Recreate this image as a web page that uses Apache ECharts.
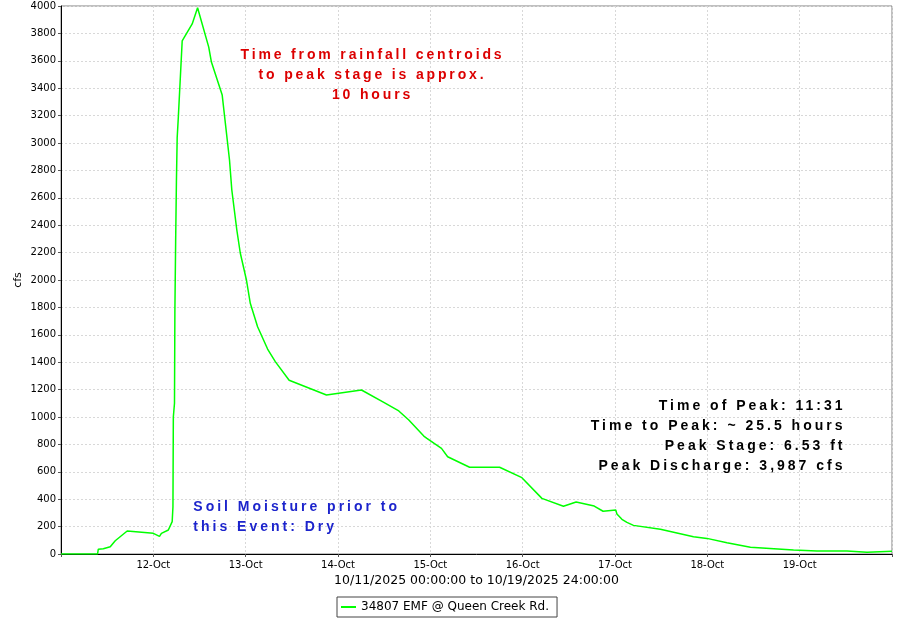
<!DOCTYPE html>
<html>
<head>
<meta charset="utf-8">
<script src="https://cdn.jsdelivr.net/npm/echarts@6/dist/echarts.min.js"></script>
<style>html,body{margin:0;padding:0;background:#fff}#c{width:900px;height:620px}</style>
</head>
<body>
<div id="c"></div>
<script>
// ---- data ----
var seriesName = '34807 EMF @ Queen Creek Rd.';
var hours = [0, 9.5, 9.7, 10.2, 11.0, 12.8, 14.1, 17.2, 24.0, 25.6, 26.1, 27.9, 28.9, 29.1, 29.2, 29.5, 29.6, 29.8, 30.0, 30.2, 30.5, 31.5, 34.1, 35.5, 38.4, 39.1, 41.9, 43.8, 44.4, 45.7, 46.6, 48.2, 49.2, 51.1, 53.7, 55.7, 59.3, 69.0, 78.1, 83.9, 87.8, 90.4, 94.3, 95.1, 98.9, 100.5, 106.2, 114.0, 119.8, 125.0, 130.6, 133.9, 138.6, 140.9, 144.2, 144.5, 145.8, 147.1, 148.8, 155.8, 164.4, 167.9, 173.1, 179.2, 190.4, 196.5, 204.3, 209.5, 216];
var cfs = [0, 0, 35, 36, 38, 53, 97, 168, 151, 129, 151, 175, 236, 345, 1000, 1100, 1760, 2280, 2715, 3040, 3190, 3745, 3869, 3987, 3700, 3591, 3350, 2876, 2657, 2365, 2197, 2000, 1830, 1659, 1496, 1404, 1268, 1161, 1197, 1107, 1044, 978, 861, 844, 771, 710, 633, 633, 557, 406, 348, 380, 350, 312, 321, 292, 253, 231, 209, 180, 126, 114, 82, 49, 29, 22, 22, 12, 20];
var dayLabels = ['', '12-Oct', '13-Oct', '14-Oct', '15-Oct', '16-Oct', '17-Oct', '18-Oct', '19-Oct', ''];
var xAxisTitle = '10/11/2025 00:00:00 to 10/19/2025 24:00:00';
var yAxisTitle = 'cfs';
var noteRed = ['Time from rainfall centroids', 'to peak stage is approx.', '10 hours'];
var noteBlack = ['Time of Peak: 11:31', 'Time to Peak: ~ 25.5 hours', 'Peak Stage: 6.53 ft', 'Peak Discharge: 3,987 cfs'];
var noteBlue = ['Soil Moisture prior to', 'this Event: Dry'];

// letter-spaced annotation text (keyed on fill colour)
(function () {
  var proto = CanvasRenderingContext2D.prototype;
  var orig = proto.fillText;
  var spacing = { '#dc0000': '2.85px', '#010101': '3px', '#1c24cc': '3px' };
  proto.fillText = function (t, x, y, m) {
    var sp = spacing[String(this.fillStyle).toLowerCase()];
    if (sp && ('letterSpacing' in this)) {
      var prev = this.letterSpacing;
      this.letterSpacing = sp;
      var r = (m === undefined) ? orig.call(this, t, x, y) : orig.call(this, t, x, y, m);
      this.letterSpacing = prev;
      return r;
    }
    return (m === undefined) ? orig.call(this, t, x, y) : orig.call(this, t, x, y, m);
  };
})();

var points = hours.map(function (h, i) { return [h, cfs[i]]; });
var font = 'DejaVu Sans';
var noteFont = 'Liberation Sans';

var chart = echarts.init(document.getElementById('c'), null, { renderer: 'canvas' });
chart.setOption({
  animation: false,
  backgroundColor: '#ffffff',
  grid: { left: 61, right: 8, top: 6, bottom: 66, show: true, borderColor: '#808080', borderWidth: 1, backgroundColor: 'transparent' },
  xAxis: {
    type: 'value', min: 0, max: 216, interval: 24,
    name: xAxisTitle, nameLocation: 'middle', nameGap: 20, nameMoveOverlap: false,
    nameTextStyle: { fontFamily: font, fontSize: 12.5, color: '#000' },
    axisLine: { show: true, lineStyle: { color: '#000', width: 1 } },
    axisTick: { show: true, length: 3, lineStyle: { color: '#555' } },
    axisLabel: { fontFamily: font, fontSize: 10, color: '#000', margin: 6,
      formatter: function (v) { return dayLabels[Math.round(v / 24)] || ''; } },
    splitLine: { show: true, lineStyle: { color: '#d8d8d8', type: [2, 2], width: 1 } }
  },
  yAxis: {
    type: 'value', min: 0, max: 4000, interval: 200,
    name: yAxisTitle, nameLocation: 'middle', nameGap: 37, nameRotate: 90, nameMoveOverlap: false,
    nameTextStyle: { fontFamily: font, fontSize: 11, color: '#000' },
    axisLine: { show: true, lineStyle: { color: '#000', width: 1 } },
    axisTick: { show: true, length: 3, lineStyle: { color: '#555' } },
    axisLabel: { fontFamily: font, fontSize: 10, color: '#000', margin: 5,
      formatter: function (v) { return String(v); } },
    splitLine: { show: true, lineStyle: { color: '#d8d8d8', type: [2, 2], width: 1 } }
  },
  legend: {
    left: 337, top: 597, orient: 'horizontal',
    padding: [4, 8, 4, 4],
    borderColor: '#444', borderWidth: 1,
    itemWidth: 15, itemHeight: 2, itemGap: 5,
    icon: 'rect',
    textStyle: { fontFamily: font, fontSize: 12, color: '#000' },
    data: [seriesName]
  },
  series: [{
    name: seriesName, type: 'line', data: points,
    showSymbol: false, symbol: 'none',
    lineStyle: { color: '#00ff00', width: 1.5 },
    itemStyle: { color: '#00ff00' }
  }],
  graphic: [
    { type: 'text', x: 372.5, y: 75.3, z: 100,
      style: { text: noteRed.join('\n'), textAlign: 'center', textVerticalAlign: 'middle', lineHeight: 20.3,
        fill: '#dc0000', fontFamily: noteFont, fontWeight: 'bold', fontSize: 14 } },
    { type: 'text', x: 845.5, y: 436, z: 100,
      style: { text: noteBlack.join('\n'), textAlign: 'right', textVerticalAlign: 'middle', lineHeight: 19.8,
        fill: '#010101', fontFamily: noteFont, fontWeight: 'bold', fontSize: 14 } },
    { type: 'text', x: 193.3, y: 517, z: 100,
      style: { text: noteBlue.join('\n'), textAlign: 'left', textVerticalAlign: 'middle', lineHeight: 19.8,
        fill: '#1c24cc', fontFamily: noteFont, fontWeight: 'bold', fontSize: 14 } }
  ]
});
</script>
</body>
</html>
